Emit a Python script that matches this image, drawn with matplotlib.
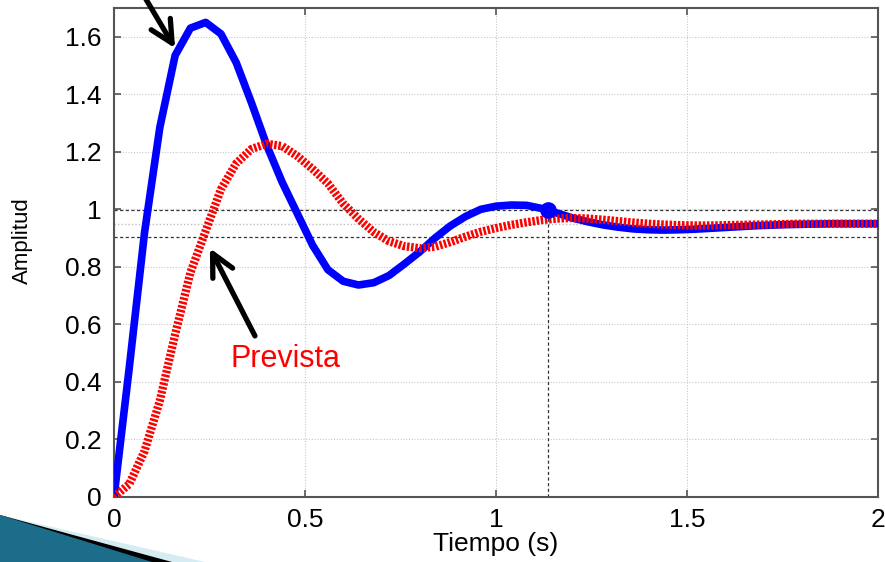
import matplotlib
matplotlib.use("Agg")
import matplotlib.pyplot as plt
from matplotlib.patches import Polygon

plt.rcParams['font.family'] = ['Liberation Sans', 'DejaVu Sans']

# Step responses sampled every 0.04 s
t = [0.00, 0.04, 0.08, 0.12, 0.16, 0.20, 0.24, 0.28, 0.32, 0.36,
     0.40, 0.44, 0.48, 0.52, 0.56, 0.60, 0.64, 0.68, 0.72, 0.76,
     0.80, 0.84, 0.88, 0.92, 0.96, 1.00, 1.04, 1.08, 1.12, 1.16,
     1.20, 1.24, 1.28, 1.32, 1.36, 1.40, 1.44, 1.48, 1.52, 1.56,
     1.60, 1.64, 1.68, 1.72, 1.76, 1.80, 1.84, 1.88, 1.92, 1.96, 2.00]

y_real = [0.000, 0.450, 0.920, 1.285, 1.535, 1.630, 1.650, 1.610, 1.510, 1.370,
          1.222, 1.095, 0.985, 0.875, 0.790, 0.750, 0.737, 0.745, 0.770, 0.810,
          0.852, 0.900, 0.942, 0.975, 1.000, 1.011, 1.015, 1.014, 1.003, 0.987,
          0.970, 0.957, 0.946, 0.938, 0.932, 0.929, 0.928, 0.929, 0.931, 0.934,
          0.937, 0.940, 0.943, 0.945, 0.947, 0.948, 0.949, 0.950, 0.950, 0.950, 0.950]

y_prevista = [0.000, 0.045, 0.160, 0.335, 0.565, 0.780, 0.925, 1.070, 1.160, 1.210,
              1.228, 1.220, 1.185, 1.140, 1.090, 1.020, 0.967, 0.921, 0.889, 0.872,
              0.865, 0.870, 0.886, 0.905, 0.922, 0.935, 0.946, 0.955, 0.963, 0.968,
              0.970, 0.968, 0.964, 0.959, 0.954, 0.950, 0.947, 0.945, 0.944, 0.944,
              0.945, 0.946, 0.947, 0.948, 0.949, 0.950, 0.950, 0.950, 0.950, 0.950, 0.950]

# Settling-time characteristic (final value 0.95, +/-5 % band)
y_final = 0.95
band_hi = 0.9975
band_lo = 0.9025
t_settle = 1.137

xticks = [0, 0.5, 1, 1.5, 2]
xtick_labels = ['0', '0.5', '1', '1.5', '2']
yticks = [0, 0.2, 0.4, 0.6, 0.8, 1.0, 1.2, 1.4, 1.6]
ytick_labels = ['0', '0.2', '0.4', '0.6', '0.8', '1', '1.2', '1.4', '1.6']

W, H = 885, 562
fig = plt.figure(figsize=(W / 100, H / 100), dpi=100)
fig.patch.set_facecolor('white')
ax = fig.add_axes([114 / W, (H - 497) / H, (878 - 114) / W, (497 - 8) / H])

ax.set_xlim(0, 2)
ax.set_ylim(0, 1.7)

# grid
ax.grid(True, color='#c8c8c8', linestyle=(0, (1, 1.5)), linewidth=0.8, zorder=0)
ax.set_axisbelow(True)

# settling band and final value
ax.axhline(y_final, color='#bdbdbd', linestyle=(0, (1, 1.5)), linewidth=1.0, zorder=1)
ax.axhline(band_hi, color='#333333', linestyle=(0, (2.5, 2)), linewidth=0.9, zorder=1)
ax.axhline(band_lo, color='#333333', linestyle=(0, (2.5, 2)), linewidth=0.9, zorder=1)
ax.plot([t_settle, t_settle], [0, band_hi], color='#333333',
        linestyle=(0, (2.5, 2)), linewidth=0.9, zorder=1)

# responses
ax.plot(t, y_real, color='#0000ff', linewidth=5.5, solid_joinstyle='round',
        solid_capstyle='round', zorder=3)
ax.plot(t, y_prevista, color='#ff0000', linewidth=6,
        linestyle=(0, (0.3, 0.2)), dash_capstyle='butt', zorder=4)
ax.plot([t_settle], [band_hi], 'o', color='#0000ff', markersize=11, zorder=5)

# ticks and frame
ax.set_xticks(xticks)
ax.set_xticklabels(xtick_labels)
ax.set_yticks(yticks)
ax.set_yticklabels(ytick_labels)
ax.tick_params(direction='in', length=5, width=1.2, color='#555555',
               labelsize=19, top=True, right=True, pad=9)
ax.tick_params(axis='x', pad=8)
for s in ax.spines.values():
    s.set_color('#555555')
    s.set_linewidth(1.5)

ax.set_xlabel('Tiempo (s)', fontsize=19, labelpad=0)
fig.text(22 / W, 1 - 241 / H, 'Amplitud', rotation=90, fontsize=16,
         ha='center', va='center')

# annotations
arrow_kw = dict(arrowstyle='->,head_length=1.0,head_width=0.5', lw=3.8,
                color='black', mutation_scale=16, shrinkA=0, shrinkB=0)
ax.annotate('', xy=(0.16, 1.56), xytext=(0.066, 1.77),
            arrowprops=arrow_kw, annotation_clip=False)
ax.annotate('', xy=(0.251, 0.865), xytext=(0.369, 0.56),
            arrowprops=arrow_kw, annotation_clip=False)
ax.text(0.304, 0.452, 'Prevista', color='#ff0000', fontsize=22,
        ha='left', va='baseline')

# slide corner decoration
def px(pts):
    return [(x / W, 1 - y / H) for x, y in pts]

fig.patches.append(Polygon(px([(0, 515), (205, 562), (0, 562)]),
                           closed=True, transform=fig.transFigure,
                           facecolor='#d6ecf3', edgecolor='none', zorder=10))
fig.patches.append(Polygon(px([(0, 515), (172, 562), (0, 562)]),
                           closed=True, transform=fig.transFigure,
                           facecolor='#000000', edgecolor='none', zorder=11))
fig.patches.append(Polygon(px([(0, 515), (152, 562), (0, 562)]),
                           closed=True, transform=fig.transFigure,
                           facecolor='#1b6d89', edgecolor='none', zorder=12))

fig.savefig('out.png', dpi=100)
